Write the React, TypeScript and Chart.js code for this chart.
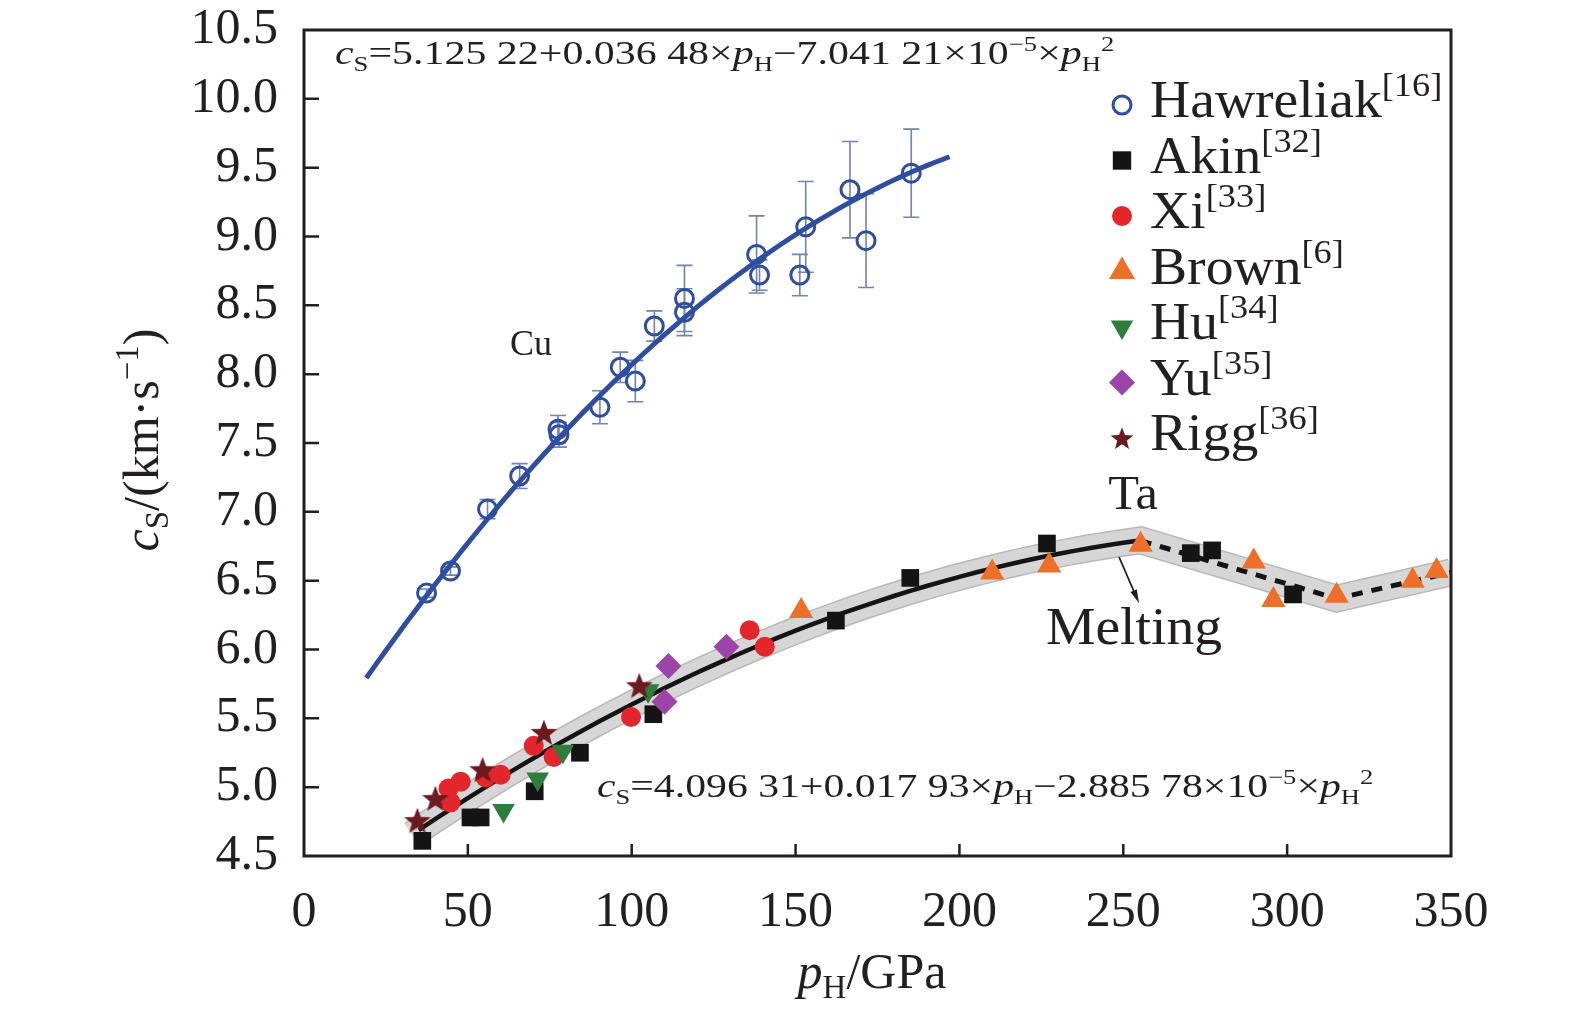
import { useEffect, useRef } from 'react';
import { Chart, registerables } from 'chart.js';
import { drawPoint } from 'chart.js/helpers';

Chart.register(...registerables);

const FONT = '"Liberation Serif", "Times New Roman", serif';
// el lienzo sube SHIFT px para compensar el relleno que Chart.js añade arriba
const SHIFT = 26;

// Cu (Hawreliak) con barras de error
const hawP = [37.4, 44.7, 56.0, 65.8, 77.5, 77.8, 90.3, 96.5, 101.1, 106.9, 116.1, 116.1, 138.1, 139.0, 151.3, 153.1, 166.6, 171.5, 185.3];
const hawC = [6.41, 6.57, 7.02, 7.26, 7.60, 7.56, 7.76, 8.05, 7.95, 8.35, 8.55, 8.45, 8.87, 8.72, 8.72, 9.07, 9.34, 8.97, 9.46];
const hawErr = [0.03, 0.03, 0.07, 0.09, 0.10, 0.09, 0.12, 0.11, 0.15, 0.11, 0.24, 0.17, 0.28, 0.11, 0.15, 0.33, 0.35, 0.34, 0.32];

// Ta
const akinP = [36.1, 50.8, 53.9, 70.4, 84.2, 106.6, 162.3, 185.0, 226.7, 270.6, 277.1, 301.8];
const akinC = [4.61, 4.78, 4.78, 4.97, 5.25, 5.53, 6.21, 6.52, 6.77, 6.70, 6.72, 6.40];
const xiP = [44.1, 44.7, 47.8, 55.4, 60.0, 70.1, 76.2, 99.8, 136.0, 140.6];
const xiC = [4.99, 4.89, 5.04, 5.07, 5.09, 5.30, 5.22, 5.51, 6.14, 6.02];
const brownP = [151.7, 210.0, 227.4, 255.3, 289.8, 295.8, 315.1, 338.3, 345.6];
const brownC = [6.28, 6.56, 6.61, 6.76, 6.64, 6.36, 6.39, 6.50, 6.57];
const huP = [60.9, 71.3, 79.0, 105.0];
const huC = [4.83, 5.06, 5.26, 5.70];
const yuP = [110.0, 111.2, 128.9];
const yuC = [5.62, 5.88, 6.02];
const riggP = [34.6, 40.1, 54.5, 73.2, 102.3];
const riggC = [4.76, 4.92, 5.13, 5.40, 5.74];

// coeficientes de los ajustes impresos en la figura
const cuCoef = [5.12522, 0.03648, -7.04121e-5];
const taCoef = [4.09631, 0.01793, -2.88578e-5];
const cuRange = [19, 197];
const taRange = [35, 255.3];
const bandStart = 33;

// tramo fundido (discontinuo)
const meltP = [255.3, 315.1, 350];
const meltC = [6.79, 6.37, 6.56];

const xTicks = [0, 50, 100, 150, 200, 250, 300, 350];
const yTicks = [4.5, 5.0, 5.5, 6.0, 6.5, 7.0, 7.5, 8.0, 8.5, 9.0, 9.5, 10.0, 10.5];

const pts = (xs: number[], ys: number[]) => xs.map((x, i) => ({ x, y: ys[i] }));
const fit = (c: number[], a: number, b: number, step: number) => {
  const out: { x: number; y: number }[] = [];
  for (let p = a; p < b; p += step) out.push({ x: p, y: c[0] + c[1] * p + c[2] * p * p });
  out.push({ x: b, y: c[0] + c[1] * b + c[2] * b * b });
  return out;
};

type Seg = { t: string; it?: boolean; sub?: boolean; sup?: boolean };

// texto con sub/superíndices; sx estira horizontalmente
function drawRich(ctx: CanvasRenderingContext2D, segs: Seg[], x: number, y: number, size: number, align: 'left' | 'center' = 'left', small = 0.64, sx = 1) {
  const fontOf = (s: Seg) => `${s.it ? 'italic ' : ''}${s.sub || s.sup ? Math.round(size * small) : size}px ${FONT}`;
  let total = 0;
  const widths = segs.map((s) => {
    ctx.font = fontOf(s);
    const w = ctx.measureText(s.t).width;
    total += w;
    return w;
  });
  ctx.save();
  ctx.translate(x, y);
  ctx.scale(sx, 1);
  let cx = align === 'center' ? -total / 2 : 0;
  ctx.textAlign = 'left';
  ctx.textBaseline = 'alphabetic';
  segs.forEach((s, i) => {
    ctx.font = fontOf(s);
    const dy = s.sub ? size * 0.2 : s.sup ? -size * 0.4 : 0;
    ctx.fillText(s.t, cx, dy);
    cx += widths[i];
  });
  ctx.restore();
}

function makeStar(r: number, color: string) {
  const c = document.createElement('canvas');
  const s = Math.ceil(r * 2 + 2);
  c.width = s;
  c.height = s;
  const g = c.getContext('2d')!;
  g.fillStyle = color;
  g.beginPath();
  for (let i = 0; i < 10; i++) {
    const rad = i % 2 === 0 ? r : r * 0.42;
    const a = -Math.PI / 2 + (i * Math.PI) / 5;
    const px = s / 2 + rad * Math.cos(a);
    const py = s / 2 + rad * Math.sin(a) + r * 0.1;
    if (i === 0) g.moveTo(px, py);
    else g.lineTo(px, py);
  }
  g.closePath();
  g.fill();
  return c;
}

const BLUE = '#2f4ea0';
const BLACK = '#141414';
const RED = '#e3262b';
const ORANGE = '#ee7028';
const GREEN = '#2f7d3a';
const PURPLE = '#9c44a8';
const MAROON = '#6b1a1f';

const App = () => {
  const canvasRef = useRef<HTMLCanvasElement | null>(null);
  const chartRef = useRef<Chart | null>(null);

  useEffect(() => {
    if (!canvasRef.current) return;
    const ctx = canvasRef.current.getContext('2d');
    if (!ctx) return;
    if (chartRef.current) chartRef.current.destroy();

    const star = makeStar(14, MAROON);
    const starSmall = makeStar(12, MAROON);

    const taFit = fit(taCoef, taRange[0], taRange[1], 5);
    const band = [...fit(taCoef, bandStart, taRange[1], 5), ...pts(meltP.slice(1), meltC.slice(1))];

    const legendItems = [
      { label: 'Hawreliak', ref: '[16]', style: 'circle', fill: 'rgba(0,0,0,0)', stroke: BLUE, r: 9, bw: 3, rot: 0 },
      { label: 'Akin', ref: '[32]', style: 'rect', fill: BLACK, stroke: BLACK, r: 13, bw: 0, rot: 0 },
      { label: 'Xi', ref: '[33]', style: 'circle', fill: RED, stroke: RED, r: 10, bw: 0, rot: 0 },
      { label: 'Brown', ref: '[6]', style: 'triangle', fill: ORANGE, stroke: ORANGE, r: 15, bw: 0, rot: 0 },
      { label: 'Hu', ref: '[34]', style: 'triangle', fill: GREEN, stroke: GREEN, r: 13, bw: 0, rot: 180 },
      { label: 'Yu', ref: '[35]', style: 'rectRot', fill: PURPLE, stroke: PURPLE, r: 13, bw: 0, rot: 0 },
      { label: 'Rigg', ref: '[36]', style: starSmall, fill: MAROON, stroke: MAROON, r: 12, bw: 0, rot: 0 },
    ];

    const decor = {
      id: 'decor',
      beforeDatasetsDraw(chart: any) {
        const { ctx: c, scales } = chart;
        const xs = scales.x;
        const ys = scales.y;
        c.save();
        c.strokeStyle = '#7083b2';
        c.lineWidth = 1.6;
        hawP.forEach((p, i) => {
          const px = xs.getPixelForValue(p);
          const top = ys.getPixelForValue(hawC[i] + hawErr[i]);
          const bot = ys.getPixelForValue(hawC[i] - hawErr[i]);
          c.beginPath();
          c.moveTo(px, top);
          c.lineTo(px, bot);
          c.moveTo(px - 8, top);
          c.lineTo(px + 8, top);
          c.moveTo(px - 8, bot);
          c.lineTo(px + 8, bot);
          c.stroke();
        });
        c.restore();
      },
      afterDraw(chart: any) {
        const { ctx: c, chartArea: a, scales } = chart;
        const xs = scales.x;
        const ys = scales.y;
        c.save();
        c.strokeStyle = '#231f20';
        c.lineWidth = 2.5;
        // ticks hacia dentro
        c.beginPath();
        xTicks.slice(1, -1).forEach((t) => {
          const px = xs.getPixelForValue(t);
          c.moveTo(px, a.bottom);
          c.lineTo(px, a.bottom - 12);
        });
        yTicks.slice(1, -1).forEach((t) => {
          const py = ys.getPixelForValue(t);
          c.moveTo(a.left, py);
          c.lineTo(a.left + 15, py);
        });
        c.stroke();
        c.lineWidth = 3;
        c.strokeRect(a.left, a.top, a.right - a.left, a.bottom - a.top);

        // a partir de aquí, coordenadas de página
        c.translate(0, SHIFT);
        c.fillStyle = '#231f20';
        // títulos de ejes
        drawRich(c, [{ t: 'p', it: true }, { t: 'H', sub: true }, { t: '/GPa' }], 872, 988, 50, 'center', 0.66);
        c.save();
        c.translate(158, 440);
        c.rotate(-Math.PI / 2);
        drawRich(c, [{ t: 'c', it: true }, { t: 'S', sub: true }, { t: '/(km·s' }, { t: '−1', sup: true }, { t: ')' }], 0, 0, 50, 'center', 0.66);
        c.restore();

        // ecuaciones
        drawRich(c, [
          { t: 'c', it: true }, { t: 'S', sub: true }, { t: '=5.125 22+0.036 48×' },
          { t: 'p', it: true }, { t: 'H', sub: true }, { t: '−7.041 21×10' }, { t: '−5', sup: true },
          { t: '×' }, { t: 'p', it: true }, { t: 'H', sub: true }, { t: '2', sup: true },
        ], 335, 64, 33, 'left', 0.64, 1.27);
        drawRich(c, [
          { t: 'c', it: true }, { t: 'S', sub: true }, { t: '=4.096 31+0.017 93×' },
          { t: 'p', it: true }, { t: 'H', sub: true }, { t: '−2.885 78×10' }, { t: '−5', sup: true },
          { t: '×' }, { t: 'p', it: true }, { t: 'H', sub: true }, { t: '2', sup: true },
        ], 597, 797, 33, 'left', 0.64, 1.265);

        // anotaciones
        drawRich(c, [{ t: 'Cu' }], 531, 355, 36, 'center');
        drawRich(c, [{ t: 'Ta' }], 1133, 509, 48, 'center', 0.64, 1.05);
        drawRich(c, [{ t: 'Melting' }], 1134, 644, 52, 'center', 0.64, 1.07);

        // flecha
        c.strokeStyle = '#231f20';
        c.lineWidth = 1.8;
        c.beginPath();
        c.moveTo(1119, 557);
        c.lineTo(1136, 596);
        c.stroke();
        const ang = Math.atan2(603 - 557, 1139 - 1119);
        c.beginPath();
        c.moveTo(1139, 603);
        c.lineTo(1139 - 14 * Math.cos(ang - 0.25), 603 - 14 * Math.sin(ang - 0.25));
        c.lineTo(1139 - 14 * Math.cos(ang + 0.25), 603 - 14 * Math.sin(ang + 0.25));
        c.closePath();
        c.fill();

        // leyenda
        legendItems.forEach((it, i) => {
          const y = 105 + i * 55.5;
          c.save();
          c.fillStyle = it.fill;
          c.strokeStyle = it.stroke;
          c.lineWidth = it.bw;
          drawPoint(c, { pointStyle: it.style as any, rotation: it.rot, radius: it.r, borderWidth: it.bw }, 1122, y);
          c.restore();
          c.fillStyle = '#231f20';
          drawRich(c, [{ t: it.label }, { t: it.ref, sup: true }], 1150, y + 12, 52, 'left', 0.66, 1.07);
        });
        c.restore();
      },
    };

    chartRef.current = new Chart(ctx, {
      type: 'scatter',
      data: {
        datasets: [
          { label: 'Hawreliak', data: pts(hawP, hawC), pointStyle: 'circle', pointRadius: 9, pointBorderWidth: 3, borderColor: BLUE, backgroundColor: 'rgba(0,0,0,0)', order: 6 },
          { label: 'Akin', data: pts(akinP, akinC), pointStyle: 'rect', pointRadius: 12.5, pointBorderWidth: 0, borderColor: BLACK, backgroundColor: BLACK, order: 5 },
          { label: 'Xi', data: pts(xiP, xiC), pointStyle: 'circle', pointRadius: 10, pointBorderWidth: 0, borderColor: RED, backgroundColor: RED, order: 4 },
          { label: 'Brown', data: pts(brownP, brownC), pointStyle: 'triangle', pointRadius: 14, pointBorderWidth: 0, borderColor: ORANGE, backgroundColor: ORANGE, order: 3 },
          { label: 'Hu', data: pts(huP, huC), pointStyle: 'triangle', rotation: 180, pointRadius: 13, pointBorderWidth: 0, borderColor: GREEN, backgroundColor: GREEN, order: 2 },
          { label: 'Yu', data: pts(yuP, yuC), pointStyle: 'rectRot', pointRadius: 13, pointBorderWidth: 0, borderColor: PURPLE, backgroundColor: PURPLE, order: 1 },
          { label: 'Rigg', data: pts(riggP, riggC), pointStyle: star as any, pointRadius: 14, borderColor: MAROON, backgroundColor: MAROON, order: 0 },
          { label: 'Cu fit', data: fit(cuCoef, cuRange[0], cuRange[1], 3), showLine: true, pointRadius: 0, borderColor: BLUE, borderWidth: 5, order: 7 },
          { label: 'Ta fit', data: taFit, showLine: true, pointRadius: 0, borderColor: BLACK, borderWidth: 4.5, order: 8 },
          { label: 'Ta melt', data: pts(meltP, meltC), showLine: true, pointRadius: 0, borderColor: BLACK, borderWidth: 5, borderDash: [11, 9], order: 9 },
          { label: 'band in', data: band, showLine: true, pointRadius: 0, borderColor: '#d6d6d6', borderWidth: 25, borderJoinStyle: 'miter', clip: 0, order: 10 },
          { label: 'band out', data: band, showLine: true, pointRadius: 0, borderColor: '#b8b8b8', borderWidth: 28, borderJoinStyle: 'miter', clip: 0, order: 11 },
        ] as any,
      },
      options: {
        responsive: true,
        maintainAspectRatio: false,
        animation: false,
        layout: { padding: { top: 3, right: 124, left: 0, bottom: 0 } },
        plugins: {
          legend: { display: false },
          tooltip: { enabled: false },
        },
        scales: {
          x: {
            type: 'linear',
            min: 0,
            max: 350,
            afterFit: (s: any) => { s.height = 166; },
            afterBuildTicks: (s: any) => { s.ticks = xTicks.map((v) => ({ value: v })); },
            grid: { display: true, drawOnChartArea: false, drawTicks: false },
            border: { display: false },
            ticks: { font: { family: FONT, size: 50 }, color: '#231f20', padding: 27, maxRotation: 0 },
          },
          y: {
            type: 'linear',
            min: 4.5,
            max: 10.5,
            afterFit: (s: any) => { s.width = 304; },
            afterBuildTicks: (s: any) => { s.ticks = yTicks.map((v) => ({ value: v })); },
            grid: { display: true, drawOnChartArea: false, drawTicks: false },
            border: { display: false },
            ticks: { font: { family: FONT, size: 50 }, color: '#231f20', padding: 26, callback: (v: any) => Number(v).toFixed(1) },
          },
        },
      },
      plugins: [decor],
    });

    return () => {
      chartRef.current?.destroy();
    };
  }, []);

  return (
    <div style={{ position: 'absolute', left: 0, top: -SHIFT, width: 1575, height: 1022 + SHIFT, background: '#fff' }}>
      <canvas ref={canvasRef} />
    </div>
  );
};

export default App;
